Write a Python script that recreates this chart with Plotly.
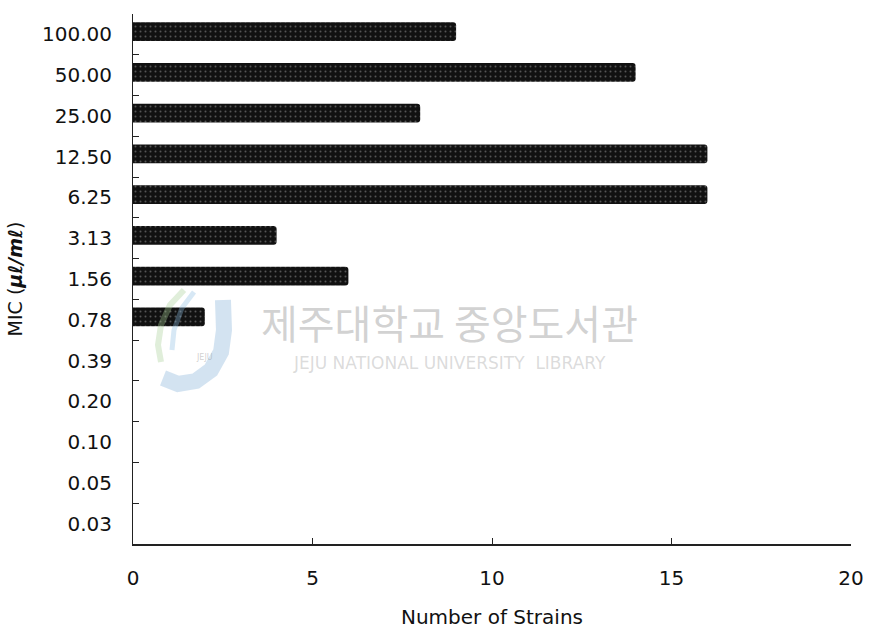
import plotly.graph_objects as go

# MIC values (bottom to top) and the number of strains at each
mic_labels = ["0.03", "0.05", "0.10", "0.20", "0.39", "0.78", "1.56",
              "3.13", "6.25", "12.50", "25.00", "50.00", "100.00"]
strain_counts = [0, 0, 0, 0, 0, 2, 6, 4, 16, 16, 8, 14, 9]
x_ticks = [0, 5, 10, 15, 20]

W, H = 872, 629
L, R, T, B = 133, 21, 14, 85

def px(x):
    return (x - L) / (W - L - R)

def py(y):
    return (H - B - y) / (H - T - B)

fig = go.Figure()
fig.add_trace(go.Bar(
    x=strain_counts,
    y=mic_labels,
    orientation="h",
    width=0.46,
    offset=-0.16,
    marker=dict(
        color="#111111",
        line=dict(width=0),
        pattern=dict(shape=".", fgcolor="#9a9a9a", size=5, solidity=0.12),
    ),
    showlegend=False,
    hoverinfo="x+y",
))

font_family = "DejaVu Sans, Arial, sans-serif"

# library watermark
fig.add_annotation(xref="paper", yref="paper", x=px(449), y=py(322),
                   text="제주대학교 중앙도서관", showarrow=False,
                   font=dict(family="Noto Sans CJK KR", size=40, color="rgba(165,165,165,0.5)"))
fig.add_annotation(xref="paper", yref="paper", x=px(449), y=py(363),
                   text="JEJU NATIONAL UNIVERSITY  LIBRARY", showarrow=False,
                   font=dict(family="DejaVu Sans", size=17, color="rgba(175,175,175,0.45)"))
fig.add_annotation(xref="paper", yref="paper", x=px(194), y=py(357),
                   text="JEJU", showarrow=False,
                   font=dict(family="DejaVu Sans", size=8, color="rgba(150,150,150,0.45)"))

def path(points):
    return "M " + " L ".join(f"{px(a):.4f},{py(b):.4f}" for a, b in points)

# logo strokes
fig.add_shape(type="path", xref="paper", yref="paper",
              path=path([(223, 300), (224, 330), (221, 352), (211, 370), (196, 381), (178, 384), (163, 378)]),
              line=dict(color="rgba(130,175,215,0.35)", width=16))
fig.add_shape(type="path", xref="paper", yref="paper",
              path=path([(184, 290), (170, 305), (161, 325), (158, 345), (161, 362)]),
              line=dict(color="rgba(165,205,150,0.35)", width=6))
fig.add_shape(type="path", xref="paper", yref="paper",
              path=path([(194, 292), (182, 308), (174, 330), (172, 350)]),
              line=dict(color="rgba(140,190,225,0.35)", width=5))

fig.update_layout(
    width=W, height=H,
    margin=dict(l=L, r=R, t=T, b=B),
    paper_bgcolor="white", plot_bgcolor="white",
    barcornerradius=3,
    font=dict(family=font_family, color="#111111", size=20),
    xaxis=dict(
        range=[0, 20], tickvals=x_ticks, ticktext=[str(v) for v in x_ticks],
        showgrid=False, zeroline=False, automargin=False,
        showline=True, linecolor="#222222", linewidth=1.5,
        ticks="inside", ticklen=6, tickcolor="#222222",
        ticklabelstandoff=15,
        tickfont=dict(size=20),
        title=dict(text="Number of Strains", font=dict(size=20), standoff=23),
    ),
    yaxis=dict(
        type="category", categoryorder="array", categoryarray=mic_labels,
        range=[-0.5, 12.5],
        showgrid=False, zeroline=False, automargin=False,
        showline=True, linecolor="#222222", linewidth=1,
        ticks="inside", ticklen=6, tickcolor="#222222", tickson="boundaries",
        ticklabelstandoff=16,
        tickfont=dict(size=20),
        title=dict(text="MIC (<b><i>μℓ/mℓ</i></b>)", font=dict(size=19), standoff=14),
    ),
)

fig.write_html("out.html")
